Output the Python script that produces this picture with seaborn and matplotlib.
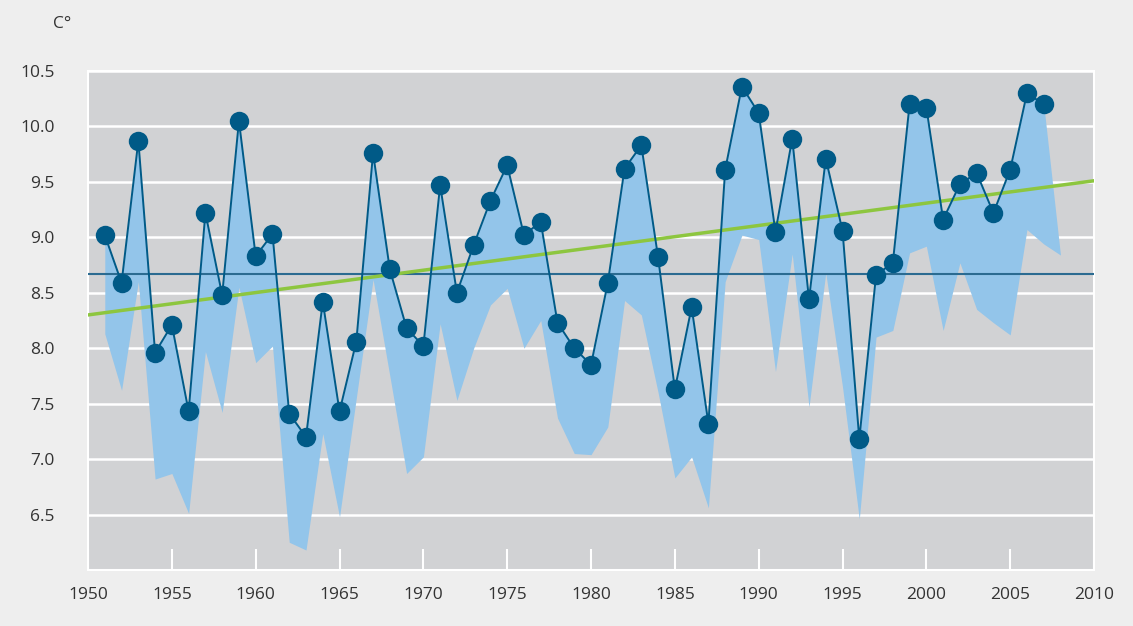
import numpy as np
import pandas as pd
import matplotlib
matplotlib.use("Agg")
import matplotlib.pyplot as plt
import seaborn as sns

# annual mean temperature (dots)
years = list(range(1951, 2008))
temp = [9.02, 8.59, 9.87, 7.96, 8.21, 7.43, 9.22, 8.48, 10.05, 8.83,
        9.03, 7.41, 7.20, 8.42, 7.43, 8.06, 9.76, 8.71, 8.18, 8.02,
        9.47, 8.50, 8.93, 9.33, 9.65, 9.02, 9.14, 8.23, 8.00, 7.85,
        8.59, 9.62, 9.83, 8.82, 7.63, 8.37, 7.32, 9.61, 10.36, 10.12,
        9.05, 9.89, 8.44, 9.71, 9.06, 7.18, 8.66, 8.77, 10.20, 10.17,
        9.16, 9.48, 9.58, 9.22, 9.61, 10.30, 10.20]

# lower edge of the shaded band (1951-2008)
band_years = list(range(1951, 2009))
band_low = [8.13, 7.62, 8.60, 6.82, 6.87, 6.51, 7.97, 7.42, 8.55, 7.87,
            8.02, 6.25, 6.18, 7.23, 6.48, 7.55, 8.62, 7.75, 6.87, 7.02,
            8.22, 7.53, 8.00, 8.39, 8.54, 8.00, 8.25, 7.37, 7.05, 7.04,
            7.29, 8.43, 8.30, 7.60, 6.83, 7.02, 6.56, 8.60, 9.02, 8.98,
            7.79, 8.85, 7.47, 8.68, 7.65, 6.46, 8.10, 8.16, 8.86, 8.92,
            8.16, 8.77, 8.35, 8.23, 8.12, 9.07, 8.94, 8.84]

mean_level = 8.67
trend_years = [1950, 2010]
trend_vals = [8.30, 9.51]

x_ticks = list(range(1950, 2011, 5))
y_ticks = [6.5, 7.0, 7.5, 8.0, 8.5, 9.0, 9.5, 10.0, 10.5]

df = pd.DataFrame({"year": years, "temp": temp})
band_top = temp + [band_low[-1]]
trend = pd.DataFrame({"year": trend_years, "val": trend_vals})

sns.set_theme(style="whitegrid")
plt.rcParams["font.family"] = ["Open Sans", "DejaVu Sans"]

fig = plt.figure(figsize=(11.33, 6.26), dpi=100, facecolor="#eeeeee")
ax = fig.add_axes([0.0777, 0.0895, 0.8879, 0.7971])
ax.set_facecolor("#d1d2d4")

ax.fill_between(band_years, band_low, band_top, color="#93c5ea", lw=0, zorder=2)
ax.axhline(mean_level, color="#2b6b91", lw=1.5, zorder=3)
sns.lineplot(data=trend, x="year", y="val", ax=ax, color="#8dc63f", lw=2.5, zorder=4)
sns.lineplot(data=df, x="year", y="temp", ax=ax, color="#005a87", lw=1.4,
             marker="o", markersize=14, markeredgewidth=0, zorder=5)

ax.set_xlim(1950, 2010)
ax.set_ylim(6.0, 10.5)
ax.set_xticks(x_ticks)
ax.set_yticks(y_ticks)
ax.set_yticklabels(["6.5", "7.0", "7.5", "8.0", "8.5", "9.0", "9.5", "10.0", "10.5"])
ax.grid(axis="y", color="white", lw=1.8, zorder=0)
ax.grid(axis="x", visible=False)
ax.set_axisbelow(True)
ax.set_xlabel("")
ax.set_ylabel("")

ax.tick_params(axis="x", direction="in", length=15, width=1.5, color="white",
               labelsize=12.5, labelcolor="#333333", pad=12, bottom=True)
ax.tick_params(axis="y", length=0, labelsize=12.5, labelcolor="#333333", pad=24)
for s in ax.spines.values():
    s.set_color("white")
    s.set_linewidth(1.5)

fig.text(0.047, 0.962, "C°", fontsize=12.5, color="#333333", va="center")

fig.savefig("out.png", dpi=100, facecolor=fig.get_facecolor())
